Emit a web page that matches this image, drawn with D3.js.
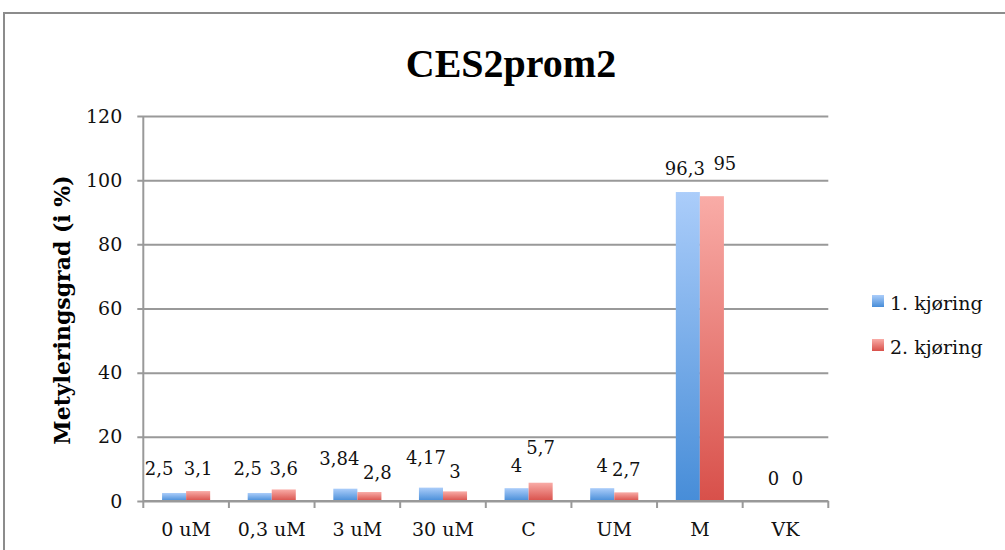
<!DOCTYPE html>
<html>
<head>
<meta charset="utf-8">
<script src="https://cdn.jsdelivr.net/npm/d3@7/dist/d3.min.js"></script>
<style>
  html, body { margin: 0; padding: 0; background: #fff; }
  svg { display: block; }
</style>
</head>
<body>
<svg id="chart" width="1005" height="550"></svg>
<script>
// Methylation degree per sample, two runs
const categories = ["0 uM", "0,3 uM", "3 uM", "30 uM", "C", "UM", "M", "VK"];
const run1 = [2.5, 2.5, 3.84, 4.17, 4, 4, 96.3, 0];
const run2 = [3.1, 3.6, 2.8, 3, 5.7, 2.7, 95, 0];
const seriesNames = ["1. kjøring", "2. kjøring"];
const yTicks = [0, 20, 40, 60, 80, 100, 120];

// label nudges [dx, dy] so neighbouring value labels don't collide
const labelNudge = [
  [[-15, -2], [-12, -2], [-6, -8], [-5, -8], [0, 0], [0, 0], [-3, -1], [0, 0]],
  [[0, 0], [0, 1.5], [8, 3], [0, 3], [0, -13], [0, 0], [13, -10], [0, 0]]
];

const svg = d3.select("#chart");
const serif = "'DejaVu Serif', 'Liberation Serif', serif";

const plot = { left: 143.3, right: 828.3, top: 116, bottom: 501 };

const x0 = d3.scaleBand().domain(categories).range([plot.left, plot.right]).padding(0);
const x1 = d3.scaleBand().domain([0, 1]).range([0, x0.bandwidth()]).paddingInner(0).paddingOuter(0.78);
const y = d3.scaleLinear().domain([0, 120]).range([plot.bottom, plot.top]);

// gradients for the two series
const defs = svg.append("defs");
const grads = [
  { id: "g1", top: "#abcdfa", bottom: "#478dd8" },
  { id: "g2", top: "#f9aca7", bottom: "#d8504a" }
];
grads.forEach(g => {
  const lg = defs.append("linearGradient").attr("id", g.id)
    .attr("x1", 0).attr("y1", 0).attr("x2", 0).attr("y2", 1);
  lg.append("stop").attr("offset", "0%").attr("stop-color", g.top);
  lg.append("stop").attr("offset", "100%").attr("stop-color", g.bottom);
});

// frame of the chart area
svg.append("path")
  .attr("d", "M4,550 V13 H1005")
  .attr("fill", "none").attr("stroke", "#8c8c8c").attr("stroke-width", 2);

// title
svg.append("text")
  .attr("x", 511).attr("y", 77)
  .attr("text-anchor", "middle")
  .attr("font-family", "'Liberation Serif', serif")
  .attr("font-weight", "bold")
  .attr("font-size", 40)
  .attr("fill", "#000")
  .text("CES2prom2");

// y axis with horizontal gridlines
const yAxis = d3.axisLeft(y).tickValues(yTicks).tickSize(-(plot.right - plot.left)).tickPadding(21).tickFormat(d3.format("d"));
const gy = svg.append("g").attr("transform", `translate(${plot.left},0)`).call(yAxis);
gy.select(".domain").remove();
gy.selectAll(".tick line").attr("stroke", "#999").attr("stroke-width", 2).attr("x1", -6);
gy.selectAll(".tick text").attr("font-family", serif).attr("font-size", 19).attr("fill", "#111");

// vertical axis line
svg.append("line")
  .attr("x1", plot.left).attr("x2", plot.left)
  .attr("y1", plot.top).attr("y2", plot.bottom)
  .attr("stroke", "#999").attr("stroke-width", 2);

// category axis: labels centred, ticks at category boundaries
const xAxis = d3.axisBottom(x0).tickSize(0).tickPadding(22);
const gx = svg.append("g").attr("transform", `translate(0,${plot.bottom})`).call(xAxis);
gx.select(".domain").remove();
gx.selectAll(".tick text").attr("font-family", serif).attr("font-size", 19).attr("fill", "#111");

const boundaries = categories.map(c => x0(c)).concat([plot.right]);
svg.append("g").selectAll("line").data(boundaries).join("line")
  .attr("x1", d => d).attr("x2", d => d)
  .attr("y1", plot.bottom).attr("y2", plot.bottom + 7)
  .attr("stroke", "#999").attr("stroke-width", 2);

// bars
const series = [run1, run2];
const barG = svg.append("g");
series.forEach((vals, s) => {
  barG.selectAll(`rect.s${s}`).data(vals).join("rect")
    .attr("class", `s${s}`)
    .attr("x", (d, i) => x0(categories[i]) + x1(s))
    .attr("width", x1.bandwidth())
    .attr("y", d => y(d))
    .attr("height", d => y(0) - y(d))
    .attr("fill", `url(#${grads[s].id})`);
});

// baseline drawn over the bars
svg.append("line")
  .attr("x1", plot.left).attr("x2", plot.right)
  .attr("y1", plot.bottom).attr("y2", plot.bottom)
  .attr("stroke", "#999").attr("stroke-width", 2);

// value labels
const fmt = v => String(v).replace(".", ",");
series.forEach((vals, s) => {
  svg.append("g").selectAll("text").data(vals).join("text")
    .attr("x", (d, i) => x0(categories[i]) + x1(s) + x1.bandwidth() / 2 + labelNudge[s][i][0])
    .attr("y", (d, i) => y(d) - 16 + labelNudge[s][i][1])
    .attr("text-anchor", "middle")
    .attr("font-family", serif)
    .attr("font-size", 18)
    .attr("fill", "#111")
    .text(d => fmt(d));
});

// y axis title
svg.append("text")
  .attr("transform", "translate(70,310) rotate(-90)")
  .attr("text-anchor", "middle")
  .attr("font-family", serif)
  .attr("font-weight", "bold")
  .attr("font-size", 22)
  .attr("fill", "#000")
  .text("Metyleringsgrad (i %)");

// legend
const legend = svg.append("g");
seriesNames.forEach((name, s) => {
  const ly = 295 + s * 44;
  legend.append("rect")
    .attr("x", 872).attr("y", ly).attr("width", 12).attr("height", 12)
    .attr("fill", `url(#${grads[s].id})`);
  legend.append("text")
    .attr("x", 890).attr("y", ly + 15)
    .attr("font-family", serif)
    .attr("font-size", 19)
    .attr("fill", "#111")
    .text(name);
});
</script>
</body>
</html>
